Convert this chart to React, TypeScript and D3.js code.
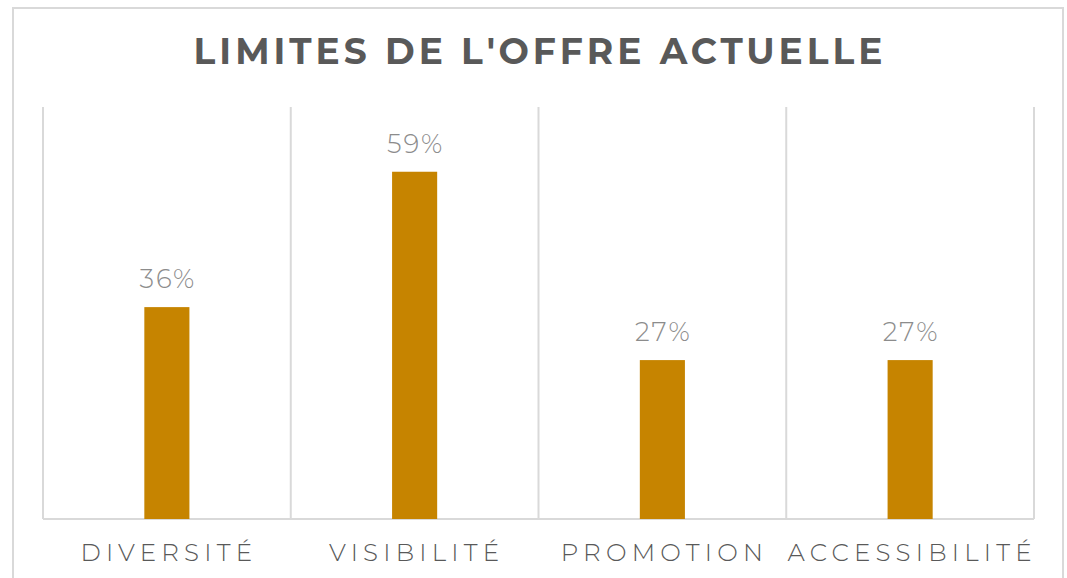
import React from "react";
import * as d3 from "d3";

const categories = ["DIVERSITÉ", "VISIBILITÉ", "PROMOTION", "ACCESSIBILITÉ"];
const values = [36, 59, 27, 27];
const title = "LIMITES DE L'OFFRE ACTUELLE";

const W = 1067;
const H = 578;
const plot = { left: 43, right: 1034, top: 107, bottom: 519 };

export default function App() {
  const x = d3
    .scaleBand<string>()
    .domain(categories)
    .range([plot.left, plot.right])
    .paddingInner(0)
    .paddingOuter(0);
  const y = d3.scaleLinear().domain([0, 70]).range([plot.bottom, plot.top]);
  const barW = x.bandwidth() * 0.182;
  const gridXs = [...categories.map((c) => x(c)!), plot.right];
  const font = "Montserrat, 'Open Sans', Lato, sans-serif";

  return (
    <svg
      width={W}
      height={H}
      style={{ position: "absolute", left: 0, top: 0, background: "#fff" }}
    >
      <rect x={13} y={8} width={1050} height={H} fill="#fff" stroke="#d9d9d9" strokeWidth={2} />
      <text
        x={540}
        y={64}
        textAnchor="middle"
        fontFamily={font}
        fontWeight={700}
        fontSize={36}
        letterSpacing={4}
        fill="#595959"
      >
        {title}
      </text>
      {gridXs.map((gx, i) => (
        <line key={i} x1={gx} x2={gx} y1={plot.top} y2={plot.bottom} stroke="#d9d9d9" strokeWidth={2} />
      ))}
      <line x1={plot.left} x2={plot.right} y1={plot.bottom} y2={plot.bottom} stroke="#d9d9d9" strokeWidth={2} />
      {categories.map((c, i) => {
        const cx = x(c)! + x.bandwidth() / 2;
        return (
          <g key={c}>
            <rect x={cx - barW / 2} y={y(values[i])} width={barW} height={plot.bottom - y(values[i])} fill="#C68400" />
            <text
              x={cx + 1}
              y={y(values[i]) - 19}
              textAnchor="middle"
              fontFamily={font}
              fontWeight={300}
              fontSize={26}
              letterSpacing={2}
              fill="#8c8c8c"
            >
              {values[i]}%
            </text>
            <text
              x={cx + 2}
              y={561}
              textAnchor="middle"
              fontFamily={font}
              fontWeight={300}
              fontSize={24.5}
              letterSpacing={5.2}
              fill="#595959"
            >
              {c}
            </text>
          </g>
        );
      })}
    </svg>
  );
}
